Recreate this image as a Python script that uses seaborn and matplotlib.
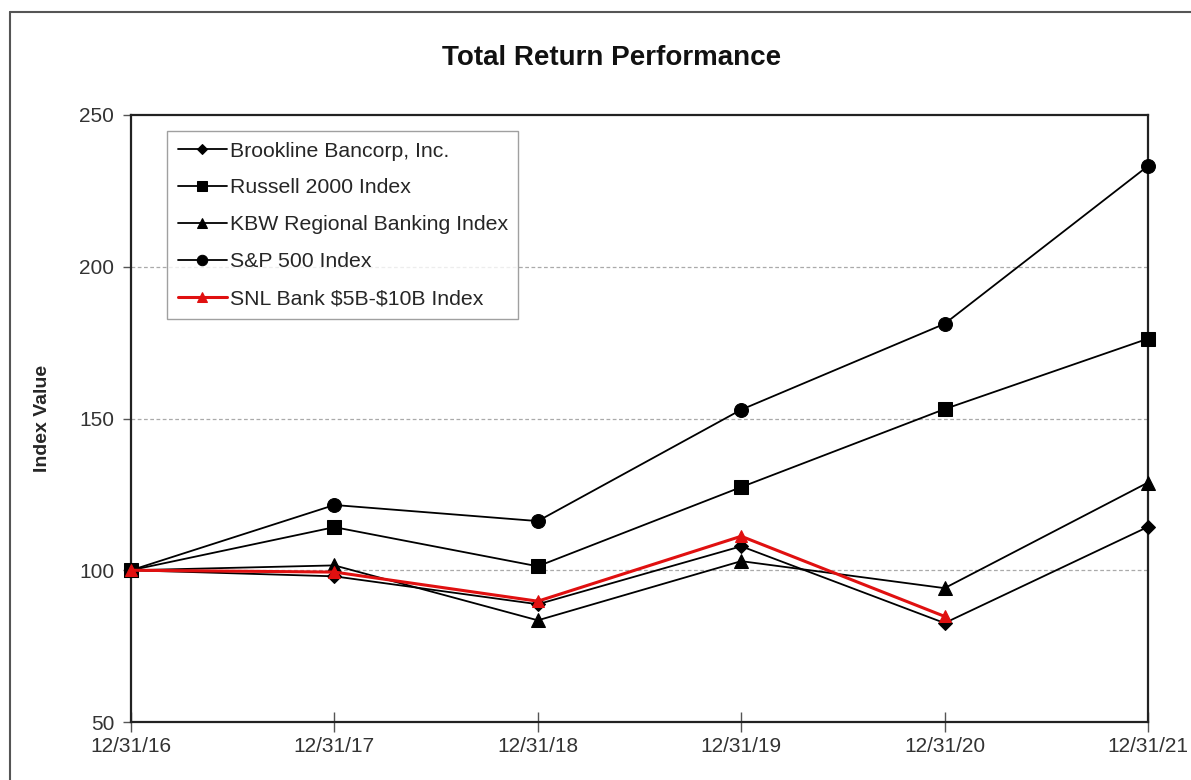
import matplotlib
matplotlib.use("Agg")
import matplotlib.pyplot as plt
from matplotlib.lines import Line2D
import seaborn as sns
import pandas as pd

dates = ["12/31/16", "12/31/17", "12/31/18", "12/31/19", "12/31/20", "12/31/21"]
brookline = [100.0, 98.0, 88.8, 107.9, 82.6, 114.3]
russell = [100.0, 114.2, 101.3, 127.4, 153.1, 176.3]
kbw = [100.0, 101.6, 83.5, 103.0, 94.1, 128.9]
sp500 = [100.0, 121.5, 116.2, 152.9, 181.2, 233.2]
snl = [100.0, 99.4, 89.8, 111.2, 84.8]

series_names = ["Brookline Bancorp, Inc.", "Russell 2000 Index", "KBW Regional Banking Index",
                "S&P 500 Index", "SNL Bank \\$5B-\\$10B Index"]
series_values = [brookline, russell, kbw, sp500, snl]

styles = [
    dict(color="black", marker="D", ms=7, lw=1.3),
    dict(color="black", marker="s", ms=10, lw=1.3),
    dict(color="black", marker="^", ms=10, lw=1.3),
    dict(color="black", marker="o", ms=10, lw=1.3),
    dict(color="#e01010", marker="^", ms=9, lw=2.2),
]

rows = []
for name, vals in zip(series_names, series_values):
    for i, v in enumerate(vals):
        rows.append({"series": name, "x": i, "value": v})
df = pd.DataFrame(rows)

sns.set_theme(style="white")
plt.rcParams["font.family"] = ["Liberation Sans", "DejaVu Sans"]

fig = plt.figure(figsize=(11.91, 7.80), dpi=100)
ax = fig.add_axes([131/1191, 1 - 722/780, (1148 - 131)/1191, (722 - 115)/780])

for name, st in zip(series_names, styles):
    sub = df[df["series"] == name]
    sns.lineplot(data=sub, x="x", y="value", ax=ax, color=st["color"], marker=st["marker"],
                 markersize=st["ms"], linewidth=st["lw"], markeredgecolor=st["color"],
                 markerfacecolor=st["color"], label=name, clip_on=False, zorder=3)

ax.set_xlim(0, 5)
ax.set_ylim(50, 250)
ax.set_yticks([50, 100, 150, 200, 250])
ax.set_xticks(range(len(dates)))
ax.set_xticklabels(dates)
ax.set_xlabel("")
ax.set_ylabel("Index Value", fontsize=14, fontweight="bold", labelpad=20)

for y in [100, 150, 200]:
    ax.axhline(y, color="#aaaaaa", lw=0.9, ls=(0, (3, 2)), zorder=1)

for s in ax.spines.values():
    s.set_visible(True)
    s.set_color("#222222")
    s.set_linewidth(1.6)

ax.tick_params(axis="y", direction="out", length=6, width=1, color="#555555",
               labelsize=15, labelcolor="#333333", pad=6, left=True)
ax.tick_params(axis="x", direction="inout", length=14, width=1, color="#555555",
               labelsize=15, labelcolor="#333333", pad=4, bottom=True)

leg = ax.legend(loc="upper left", bbox_to_anchor=(36/1017, 1 - 16/607), fontsize=15.3,
                frameon=True, fancybox=False, edgecolor="#888888", handlelength=2.3,
                handletextpad=0.15, labelspacing=0.84, borderpad=0.5, borderaxespad=0,
                markerscale=0.75)
leg.get_frame().set_linewidth(1.0)

fig.text(612/1191, 1 - 58/780, "Total Return Performance", fontsize=20, fontweight="bold",
         ha="center", va="center", color="#111111")

fig.add_artist(Line2D([10/1191, 10/1191], [0, 1 - 12/780], transform=fig.transFigure,
                      color="#555555", lw=1.5))
fig.add_artist(Line2D([10/1191, 1], [1 - 12/780, 1 - 12/780], transform=fig.transFigure,
                      color="#555555", lw=1.5))

fig.savefig("out.png", dpi=100)
